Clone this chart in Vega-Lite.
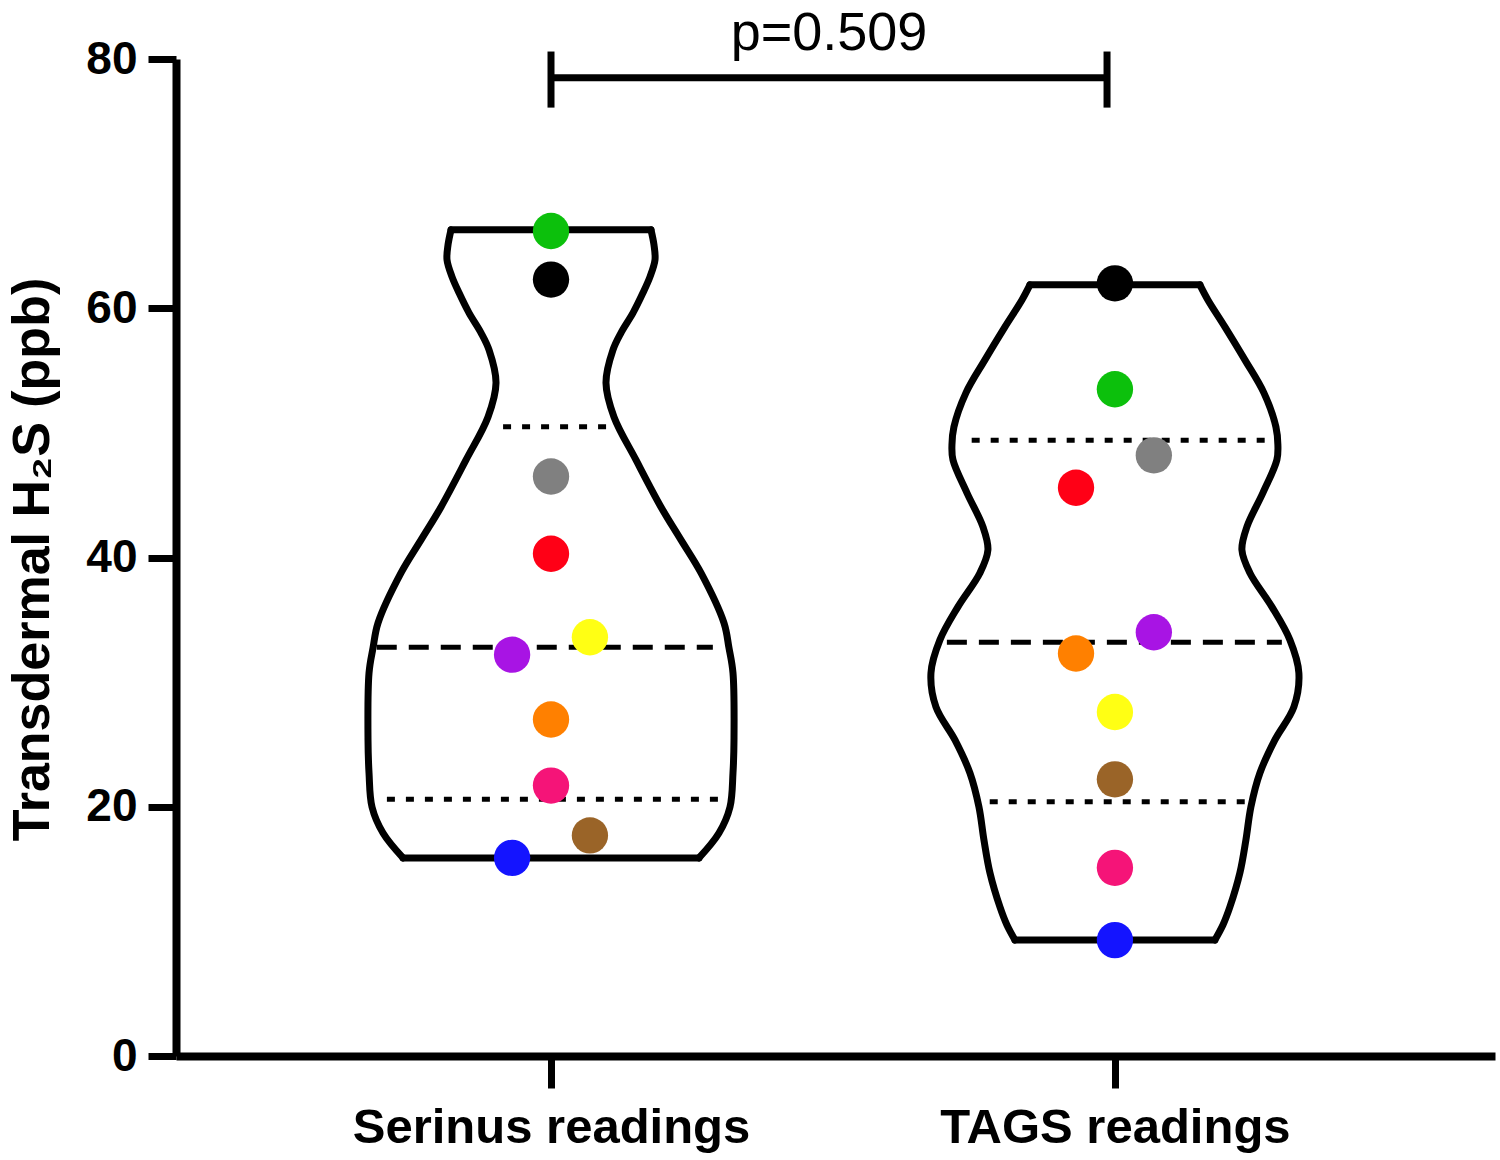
{
  "$schema": "https://vega.github.io/schema/vega-lite/v6.json",
  "width": 1319,
  "height": 997,
  "padding": {"left": 176, "top": 59, "right": 5, "bottom": 104},
  "autosize": {"type": "none"},
  "background": "white",
  "config": {
    "view": {"stroke": null},
    "axis": {
      "grid": false,
      "domainColor": "black",
      "domainWidth": 8,
      "tickColor": "black",
      "tickWidth": 7,
      "labelColor": "black",
      "labelFont": "Liberation Sans",
      "labelFontWeight": "bold",
      "titleColor": "black",
      "titleFont": "Liberation Sans",
      "titleFontWeight": "bold"
    }
  },
  "datasets": {
    "outline": [
      {"path": "S-left", "i": 1, "pos": 0.8227, "value": 66.29},
      {"path": "S-left", "i": 2, "pos": 0.8174, "value": 65.09},
      {"path": "S-left", "i": 3, "pos": 0.8156, "value": 63.88},
      {"path": "S-left", "i": 4, "pos": 0.8245, "value": 62.52},
      {"path": "S-left", "i": 5, "pos": 0.8369, "value": 61.24},
      {"path": "S-left", "i": 6, "pos": 0.8546, "value": 59.63},
      {"path": "S-left", "i": 7, "pos": 0.8759, "value": 58.03},
      {"path": "S-left", "i": 8, "pos": 0.8901, "value": 56.66},
      {"path": "S-left", "i": 9, "pos": 0.9025, "value": 54.01},
      {"path": "S-left", "i": 10, "pos": 0.8883, "value": 51.28},
      {"path": "S-left", "i": 11, "pos": 0.8493, "value": 47.83},
      {"path": "S-left", "i": 12, "pos": 0.805, "value": 44.06},
      {"path": "S-left", "i": 13, "pos": 0.7695, "value": 41.41},
      {"path": "S-left", "i": 14, "pos": 0.734, "value": 38.76},
      {"path": "S-left", "i": 15, "pos": 0.6933, "value": 34.75},
      {"path": "S-left", "i": 16, "pos": 0.6844, "value": 32.74},
      {"path": "S-left", "i": 17, "pos": 0.6773, "value": 30.74},
      {"path": "S-left", "i": 18, "pos": 0.6755, "value": 25.36},
      {"path": "S-left", "i": 19, "pos": 0.6773, "value": 22.71},
      {"path": "S-left", "i": 20, "pos": 0.6826, "value": 19.98},
      {"path": "S-left", "i": 21, "pos": 0.7021, "value": 17.89},
      {"path": "S-left", "i": 22, "pos": 0.7376, "value": 15.89},
      {"path": "S-bottom", "i": 1, "pos": 0.7376, "value": 15.89},
      {"path": "S-bottom", "i": 2, "pos": 1.2624, "value": 15.89},
      {"path": "S-right", "i": 1, "pos": 1.2624, "value": 15.89},
      {"path": "S-right", "i": 2, "pos": 1.2979, "value": 17.89},
      {"path": "S-right", "i": 3, "pos": 1.3174, "value": 19.98},
      {"path": "S-right", "i": 4, "pos": 1.3227, "value": 22.71},
      {"path": "S-right", "i": 5, "pos": 1.3245, "value": 25.36},
      {"path": "S-right", "i": 6, "pos": 1.3227, "value": 30.74},
      {"path": "S-right", "i": 7, "pos": 1.3156, "value": 32.74},
      {"path": "S-right", "i": 8, "pos": 1.3067, "value": 34.75},
      {"path": "S-right", "i": 9, "pos": 1.266, "value": 38.76},
      {"path": "S-right", "i": 10, "pos": 1.2305, "value": 41.41},
      {"path": "S-right", "i": 11, "pos": 1.195, "value": 44.06},
      {"path": "S-right", "i": 12, "pos": 1.1507, "value": 47.83},
      {"path": "S-right", "i": 13, "pos": 1.1117, "value": 51.28},
      {"path": "S-right", "i": 14, "pos": 1.0975, "value": 54.01},
      {"path": "S-right", "i": 15, "pos": 1.1099, "value": 56.66},
      {"path": "S-right", "i": 16, "pos": 1.1241, "value": 58.03},
      {"path": "S-right", "i": 17, "pos": 1.1454, "value": 59.63},
      {"path": "S-right", "i": 18, "pos": 1.1631, "value": 61.24},
      {"path": "S-right", "i": 19, "pos": 1.1755, "value": 62.52},
      {"path": "S-right", "i": 20, "pos": 1.1844, "value": 63.88},
      {"path": "S-right", "i": 21, "pos": 1.1826, "value": 65.09},
      {"path": "S-right", "i": 22, "pos": 1.1773, "value": 66.29},
      {"path": "S-top", "i": 1, "pos": 1.1773, "value": 66.29},
      {"path": "S-top", "i": 2, "pos": 0.8227, "value": 66.29},
      {"path": "T-left", "i": 1, "pos": 1.8493, "value": 61.88},
      {"path": "T-left", "i": 2, "pos": 1.8351, "value": 60.67},
      {"path": "T-left", "i": 3, "pos": 1.805, "value": 58.51},
      {"path": "T-left", "i": 4, "pos": 1.7695, "value": 55.86},
      {"path": "T-left", "i": 5, "pos": 1.7358, "value": 53.21},
      {"path": "T-left", "i": 6, "pos": 1.7145, "value": 50.48},
      {"path": "T-left", "i": 7, "pos": 1.711, "value": 49.04},
      {"path": "T-left", "i": 8, "pos": 1.7128, "value": 47.83},
      {"path": "T-left", "i": 9, "pos": 1.7376, "value": 45.18},
      {"path": "T-left", "i": 10, "pos": 1.766, "value": 42.46},
      {"path": "T-left", "i": 11, "pos": 1.7748, "value": 40.61},
      {"path": "T-left", "i": 12, "pos": 1.7606, "value": 38.76},
      {"path": "T-left", "i": 13, "pos": 1.7216, "value": 36.04},
      {"path": "T-left", "i": 14, "pos": 1.6897, "value": 33.39},
      {"path": "T-left", "i": 15, "pos": 1.6738, "value": 30.74},
      {"path": "T-left", "i": 16, "pos": 1.6826, "value": 28.01},
      {"path": "T-left", "i": 17, "pos": 1.7163, "value": 25.36},
      {"path": "T-left", "i": 18, "pos": 1.7429, "value": 22.71},
      {"path": "T-left", "i": 19, "pos": 1.7589, "value": 19.98},
      {"path": "T-left", "i": 20, "pos": 1.7677, "value": 17.34},
      {"path": "T-left", "i": 21, "pos": 1.7784, "value": 14.69},
      {"path": "T-left", "i": 22, "pos": 1.7961, "value": 11.96},
      {"path": "T-left", "i": 23, "pos": 1.8085, "value": 10.51},
      {"path": "T-left", "i": 24, "pos": 1.8227, "value": 9.31},
      {"path": "T-bottom", "i": 1, "pos": 1.8227, "value": 9.31},
      {"path": "T-bottom", "i": 2, "pos": 2.1773, "value": 9.31},
      {"path": "T-right", "i": 1, "pos": 2.1773, "value": 9.31},
      {"path": "T-right", "i": 2, "pos": 2.1915, "value": 10.51},
      {"path": "T-right", "i": 3, "pos": 2.2039, "value": 11.96},
      {"path": "T-right", "i": 4, "pos": 2.2216, "value": 14.69},
      {"path": "T-right", "i": 5, "pos": 2.2323, "value": 17.34},
      {"path": "T-right", "i": 6, "pos": 2.2411, "value": 19.98},
      {"path": "T-right", "i": 7, "pos": 2.2571, "value": 22.71},
      {"path": "T-right", "i": 8, "pos": 2.2837, "value": 25.36},
      {"path": "T-right", "i": 9, "pos": 2.3174, "value": 28.01},
      {"path": "T-right", "i": 10, "pos": 2.3262, "value": 30.74},
      {"path": "T-right", "i": 11, "pos": 2.3103, "value": 33.39},
      {"path": "T-right", "i": 12, "pos": 2.2784, "value": 36.04},
      {"path": "T-right", "i": 13, "pos": 2.2394, "value": 38.76},
      {"path": "T-right", "i": 14, "pos": 2.2252, "value": 40.61},
      {"path": "T-right", "i": 15, "pos": 2.234, "value": 42.46},
      {"path": "T-right", "i": 16, "pos": 2.2624, "value": 45.18},
      {"path": "T-right", "i": 17, "pos": 2.2872, "value": 47.83},
      {"path": "T-right", "i": 18, "pos": 2.289, "value": 49.04},
      {"path": "T-right", "i": 19, "pos": 2.2855, "value": 50.48},
      {"path": "T-right", "i": 20, "pos": 2.2642, "value": 53.21},
      {"path": "T-right", "i": 21, "pos": 2.2305, "value": 55.86},
      {"path": "T-right", "i": 22, "pos": 2.195, "value": 58.51},
      {"path": "T-right", "i": 23, "pos": 2.1649, "value": 60.67},
      {"path": "T-right", "i": 24, "pos": 2.1507, "value": 61.88},
      {"path": "T-top", "i": 1, "pos": 2.1507, "value": 61.88},
      {"path": "T-top", "i": 2, "pos": 1.8493, "value": 61.88}
    ],
    "quartiles": [
      {"group": "Serinus readings", "stat": "quartile", "value": 50.5, "pos": 0.915, "pos2": 1.108},
      {"group": "Serinus readings", "stat": "median", "value": 32.8, "pos": 0.691, "pos2": 1.287},
      {"group": "Serinus readings", "stat": "quartile", "value": 20.6, "pos": 0.709, "pos2": 1.309},
      {"group": "TAGS readings", "stat": "quartile", "value": 49.4, "pos": 1.746, "pos2": 2.275},
      {"group": "TAGS readings", "stat": "median", "value": 33.2, "pos": 1.702, "pos2": 2.296},
      {"group": "TAGS readings", "stat": "quartile", "value": 20.4, "pos": 1.778, "pos2": 2.243}
    ],
    "points": [
      {"group": "Serinus readings", "subject": "1", "pos": 1.0, "value": 66.2},
      {"group": "Serinus readings", "subject": "2", "pos": 1.0, "value": 62.3},
      {"group": "Serinus readings", "subject": "3", "pos": 1.0, "value": 46.5},
      {"group": "Serinus readings", "subject": "4", "pos": 1.0, "value": 40.3},
      {"group": "Serinus readings", "subject": "5", "pos": 1.069, "value": 33.6},
      {"group": "Serinus readings", "subject": "6", "pos": 0.931, "value": 32.2},
      {"group": "Serinus readings", "subject": "7", "pos": 1.0, "value": 27.0},
      {"group": "Serinus readings", "subject": "8", "pos": 1.0, "value": 21.7},
      {"group": "Serinus readings", "subject": "9", "pos": 1.069, "value": 17.7},
      {"group": "Serinus readings", "subject": "10", "pos": 0.931, "value": 15.9},
      {"group": "TAGS readings", "subject": "1", "pos": 2.0, "value": 53.5},
      {"group": "TAGS readings", "subject": "2", "pos": 2.0, "value": 62.0},
      {"group": "TAGS readings", "subject": "3", "pos": 2.069, "value": 48.2},
      {"group": "TAGS readings", "subject": "4", "pos": 1.931, "value": 45.6},
      {"group": "TAGS readings", "subject": "5", "pos": 2.0, "value": 27.6},
      {"group": "TAGS readings", "subject": "6", "pos": 2.069, "value": 34.0},
      {"group": "TAGS readings", "subject": "7", "pos": 1.931, "value": 32.3},
      {"group": "TAGS readings", "subject": "8", "pos": 2.0, "value": 15.1},
      {"group": "TAGS readings", "subject": "9", "pos": 2.0, "value": 22.2},
      {"group": "TAGS readings", "subject": "10", "pos": 2.0, "value": 9.3}
    ],
    "bracket": [
      {"pos": 1.0, "pos2": 1.986, "value": 78.5, "value2": 78.5},
      {"pos": 1.0, "pos2": 1.0, "value": 76.1, "value2": 80.6},
      {"pos": 1.986, "pos2": 1.986, "value": 76.1, "value2": 80.6}
    ],
    "annotation": [
      {"label": "p=0.509", "pos": 1.493, "value": 80.7}
    ]
  },
  "layer": [
    {
      "data": {"name": "outline"},
      "mark": {"type": "line", "color": "black", "strokeWidth": 7, "strokeJoin": "round", "strokeCap": "round", "interpolate": "catmull-rom"},
      "encoding": {
        "x": {
          "field": "pos", "type": "quantitative",
          "scale": {"domain": [0.335, 2.674], "nice": false, "zero": false},
          "axis": {
            "values": [1, 2],
            "labelExpr": "datum.value == 1 ? 'Serinus readings' : 'TAGS readings'",
            "title": null,
            "tickSize": 32,
            "labelPadding": 15,
            "labelFontSize": 49,
            "labelLimit": 0,
            "labelFlush": false,
            "labelOverlap": false
          }
        },
        "y": {
          "field": "value", "type": "quantitative",
          "scale": {"domain": [0, 80], "nice": false, "zero": true},
          "axis": {
            "values": [0, 20, 40, 60, 80],
            "title": "Transdermal H₂S (ppb)",
            "titleFontSize": 52,
            "titleX": -128,
            "titleY": 500,
            "titleBaseline": "alphabetic",
            "titleLimit": 0,
            "tickSize": 28,
            "labelPadding": 11,
            "labelFontSize": 46,
            "labelFlush": false,
            "labelOverlap": false
          }
        },
        "detail": {"field": "path"},
        "order": {"field": "i", "type": "quantitative"}
      }
    },
    {
      "data": {"name": "quartiles"},
      "mark": {"type": "rule", "color": "black", "strokeWidth": 5, "strokeCap": "butt"},
      "encoding": {
        "x": {"field": "pos", "type": "quantitative", "scale": {"domain": [0.335, 2.674], "nice": false, "zero": false}},
        "x2": {"field": "pos2"},
        "y": {"field": "value", "type": "quantitative", "scale": {"domain": [0, 80], "nice": false, "zero": true}},
        "strokeDash": {
          "field": "stat", "type": "nominal",
          "scale": {"domain": ["median", "quartile"], "range": [[20, 12], [8, 11]]},
          "legend": null
        }
      }
    },
    {
      "data": {"name": "bracket"},
      "mark": {"type": "rule", "color": "black", "strokeWidth": 7, "strokeCap": "butt"},
      "encoding": {
        "x": {"field": "pos", "type": "quantitative", "scale": {"domain": [0.335, 2.674], "nice": false, "zero": false}},
        "x2": {"field": "pos2"},
        "y": {"field": "value", "type": "quantitative", "scale": {"domain": [0, 80], "nice": false, "zero": true}},
        "y2": {"field": "value2"}
      }
    },
    {
      "data": {"name": "annotation"},
      "mark": {"type": "text", "font": "Liberation Sans", "fontSize": 54, "color": "black", "align": "center", "baseline": "alphabetic"},
      "encoding": {
        "x": {"field": "pos", "type": "quantitative", "scale": {"domain": [0.335, 2.674], "nice": false, "zero": false}},
        "y": {"field": "value", "type": "quantitative", "scale": {"domain": [0, 80], "nice": false, "zero": true}},
        "text": {"field": "label"}
      }
    },
    {
      "data": {"name": "points"},
      "mark": {"type": "circle", "size": 1320, "opacity": 1},
      "encoding": {
        "x": {"field": "pos", "type": "quantitative", "scale": {"domain": [0.335, 2.674], "nice": false, "zero": false}},
        "y": {"field": "value", "type": "quantitative", "scale": {"domain": [0, 80], "nice": false, "zero": true}},
        "color": {
          "field": "subject", "type": "nominal",
          "scale": {
            "domain": ["1", "2", "3", "4", "5", "6", "7", "8", "9", "10"],
            "range": ["#0cc00c", "#000000", "#808080", "#ff0016", "#ffff14", "#a814e4", "#ff8000", "#f51478", "#9a6428", "#1414ff"]
          },
          "legend": null
        }
      }
    }
  ]
}
